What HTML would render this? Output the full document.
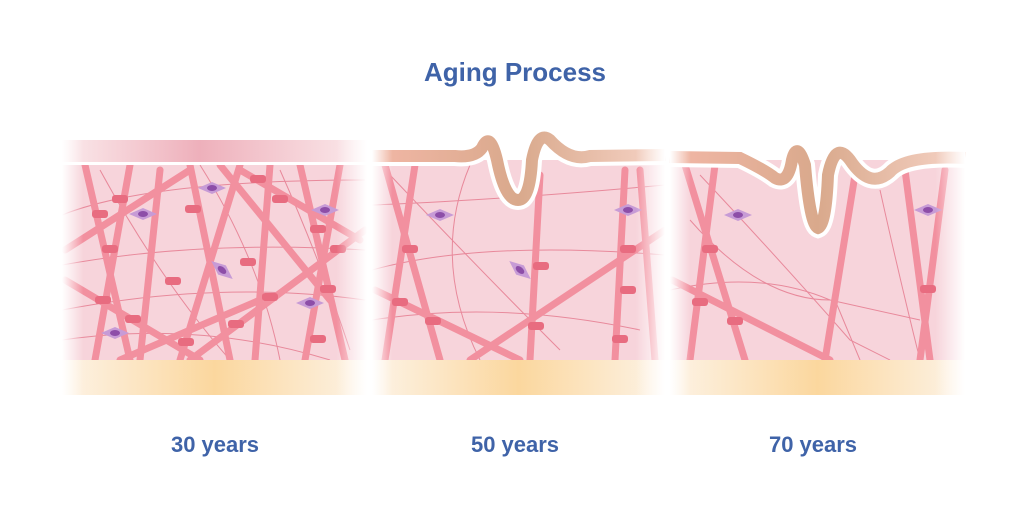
<!DOCTYPE html>
<html><head><style>
body{margin:0;background:#fff;width:1024px;height:512px;overflow:hidden}
svg{display:block}
text{font-family:"Liberation Sans",sans-serif;font-weight:bold;fill:#3f63a8}
</style></head><body>
<svg width="1024" height="512" viewBox="0 0 1024 512">
<defs>
<linearGradient id="fade" x1="0" x2="1"><stop offset="0" stop-color="#fff" stop-opacity="1"/><stop offset="0.07" stop-color="#fff" stop-opacity="0"/><stop offset="0.9" stop-color="#fff" stop-opacity="0"/><stop offset="1" stop-color="#fff" stop-opacity="1"/></linearGradient>
<linearGradient id="fat" x1="0" x2="1"><stop offset="0" stop-color="#fdf3e6"/><stop offset="0.5" stop-color="#fbd79e"/><stop offset="1" stop-color="#fdf3e6"/></linearGradient>
<linearGradient id="band" x1="0" x2="1"><stop offset="0" stop-color="#fbeaec"/><stop offset="0.45" stop-color="#eeb0bb"/><stop offset="1" stop-color="#fbeaec"/></linearGradient>
<linearGradient id="epi" x1="0" x2="1"><stop offset="0" stop-color="#f2b7a6"/><stop offset="0.5" stop-color="#d9a98c"/><stop offset="1" stop-color="#f6d3c6"/></linearGradient>
<clipPath id="c1"><rect x="62" y="165" width="305" height="195"/></clipPath>
<clipPath id="c2"><rect x="372" y="160" width="293" height="200"/></clipPath>
<clipPath id="c3"><rect x="670" y="160" width="295" height="200"/></clipPath>
<g id="cell"><path d="M-14 0 L0 -6 L14 0 L0 6Z" fill="#c79bd6"/><ellipse rx="5" ry="3" fill="#8d4ea8"/></g>
</defs>

<text x="515" y="81" font-size="26" text-anchor="middle">Aging Process</text>
<text x="215" y="452" font-size="22" text-anchor="middle">30 years</text>
<text x="515" y="452" font-size="22" text-anchor="middle">50 years</text>
<text x="813" y="452" font-size="22" text-anchor="middle">70 years</text>

<!-- Panel 1 -->
<rect x="62" y="140" width="305" height="22" fill="url(#band)"/>
<rect x="62" y="165" width="305" height="195" fill="#f7d4db"/>
<rect x="62" y="360" width="305" height="35" fill="url(#fat)"/>
<g clip-path="url(#c1)">
<g stroke="#e8899b" stroke-width="1" fill="none">
<path d="M62 215 Q150 180 365 180"/><path d="M62 265 Q200 240 365 250"/><path d="M62 310 Q220 280 365 300"/><path d="M100 170 Q160 280 230 360"/><path d="M200 165 Q260 260 280 360"/><path d="M62 340 Q200 320 330 360"/><path d="M280 170 Q320 260 350 350"/>
</g>
<g stroke="#f2909f" stroke-width="7" stroke-linecap="round" fill="none">
<line x1="85" y1="165" x2="130" y2="360"/><line x1="130" y1="165" x2="95" y2="360"/><line x1="160" y1="170" x2="140" y2="360"/>
<line x1="190" y1="165" x2="230" y2="360"/><line x1="240" y1="165" x2="180" y2="360"/><line x1="270" y1="165" x2="255" y2="360"/>
<line x1="300" y1="165" x2="345" y2="360"/><line x1="340" y1="165" x2="305" y2="360"/><line x1="220" y1="165" x2="330" y2="300"/>
<line x1="65" y1="250" x2="190" y2="170"/><line x1="65" y1="280" x2="200" y2="360"/><line x1="190" y1="360" x2="365" y2="230"/>
<line x1="240" y1="170" x2="360" y2="240"/><line x1="120" y1="360" x2="260" y2="300"/>
</g>
<g fill="#e86c80">
<rect x="92" y="210" width="16" height="8" rx="3"/><rect x="112" y="195" width="16" height="8" rx="3"/><rect x="102" y="245" width="16" height="8" rx="3"/><rect x="185" y="205" width="16" height="8" rx="3"/><rect x="250" y="175" width="16" height="8" rx="3"/><rect x="272" y="195" width="16" height="8" rx="3"/><rect x="240" y="258" width="16" height="8" rx="3"/><rect x="165" y="277" width="16" height="8" rx="3"/><rect x="95" y="296" width="16" height="8" rx="3"/><rect x="125" y="315" width="16" height="8" rx="3"/><rect x="262" y="293" width="16" height="8" rx="3"/><rect x="228" y="320" width="16" height="8" rx="3"/><rect x="178" y="338" width="16" height="8" rx="3"/><rect x="310" y="225" width="16" height="8" rx="3"/><rect x="330" y="245" width="16" height="8" rx="3"/><rect x="320" y="285" width="16" height="8" rx="3"/><rect x="310" y="335" width="16" height="8" rx="3"/>
</g>
<use href="#cell" x="143" y="214"/><use href="#cell" x="212" y="188"/><use href="#cell" x="325" y="210"/><use href="#cell" x="222" y="270" transform="rotate(40 222 270)"/><use href="#cell" x="310" y="303"/><use href="#cell" x="115" y="333"/>
</g>
<rect x="62" y="140" width="305" height="255" fill="url(#fade)"/>

<!-- Panel 2 -->
<rect x="372" y="160" width="293" height="200" fill="#f7d4db"/>
<rect x="372" y="360" width="293" height="35" fill="url(#fat)"/>
<g clip-path="url(#c2)">
<g stroke="#e8899b" stroke-width="1" fill="none">
<path d="M372 205 Q500 200 665 185"/><path d="M372 270 Q480 240 665 255"/><path d="M390 175 Q480 270 560 350"/><path d="M372 320 Q500 300 640 330"/><path d="M470 165 Q430 260 480 360"/>
</g>
<g stroke="#f2909f" stroke-width="7" stroke-linecap="round" fill="none">
<line x1="385" y1="165" x2="440" y2="360"/><line x1="415" y1="165" x2="385" y2="360"/><line x1="375" y1="290" x2="520" y2="360"/>
<line x1="540" y1="175" x2="530" y2="360"/><line x1="470" y1="360" x2="665" y2="230"/><line x1="625" y1="170" x2="615" y2="360"/><line x1="640" y1="170" x2="655" y2="360"/>
</g>
<g fill="#e86c80"><rect x="402" y="245" width="16" height="8" rx="3"/><rect x="392" y="298" width="16" height="8" rx="3"/><rect x="425" y="317" width="16" height="8" rx="3"/><rect x="533" y="262" width="16" height="8" rx="3"/><rect x="528" y="322" width="16" height="8" rx="3"/><rect x="620" y="245" width="16" height="8" rx="3"/><rect x="620" y="286" width="16" height="8" rx="3"/><rect x="612" y="335" width="16" height="8" rx="3"/></g>
<use href="#cell" x="440" y="215"/><use href="#cell" x="628" y="210"/><use href="#cell" x="520" y="270" transform="rotate(40 520 270)"/>
</g>
<path d="M372 156 L455 156 Q475 158 482 148 Q490 130 497 160 Q505 200 518 200 Q530 200 532 160 Q538 130 550 140 Q570 162 590 156 L665 155" stroke="#fff" stroke-width="20" fill="none"/>
<path d="M372 156 L455 156 Q475 158 482 148 Q490 130 497 160 Q505 200 518 200 Q530 200 532 160 Q538 130 550 140 Q570 162 590 156 L665 155" stroke="url(#epi)" stroke-width="12" fill="none"/>
<rect x="372" y="135" width="293" height="260" fill="url(#fade)"/>

<!-- Panel 3 -->
<rect x="670" y="160" width="295" height="200" fill="#f7d4db"/>
<rect x="670" y="360" width="295" height="35" fill="url(#fat)"/>
<g clip-path="url(#c3)">
<g stroke="#e8899b" stroke-width="1" fill="none">
<path d="M700 175 Q780 260 850 340 L890 360"/><path d="M670 290 Q760 270 830 300 L920 320"/><path d="M690 220 Q760 300 830 300"/><path d="M880 190 Q900 280 920 360"/><path d="M835 300 L860 360"/>
</g>
<g stroke="#f2909f" stroke-width="7" stroke-linecap="round" fill="none">
<line x1="685" y1="165" x2="745" y2="360"/><line x1="715" y1="165" x2="690" y2="360"/><line x1="672" y1="280" x2="830" y2="360"/>
<line x1="855" y1="175" x2="825" y2="360"/><line x1="905" y1="170" x2="930" y2="360"/><line x1="945" y1="170" x2="920" y2="360"/>
</g>
<g fill="#e86c80"><rect x="702" y="245" width="16" height="8" rx="3"/><rect x="692" y="298" width="16" height="8" rx="3"/><rect x="727" y="317" width="16" height="8" rx="3"/><rect x="920" y="285" width="16" height="8" rx="3"/></g>
<use href="#cell" x="738" y="215"/><use href="#cell" x="928" y="210"/>
</g>
<path d="M670 157 L740 158 Q765 170 775 178 Q788 185 792 160 Q797 140 805 165 Q810 225 818 228 Q826 225 828 175 Q835 140 850 160 Q870 190 890 172 Q905 155 965 158" stroke="#fff" stroke-width="20" fill="none"/>
<path d="M670 157 L740 158 Q765 170 775 178 Q788 185 792 160 Q797 140 805 165 Q810 225 818 228 Q826 225 828 175 Q835 140 850 160 Q870 190 890 172 Q905 155 965 158" stroke="url(#epi)" stroke-width="12" fill="none"/>
<rect x="670" y="135" width="295" height="260" fill="url(#fade)"/>
</svg>
</body></html>
